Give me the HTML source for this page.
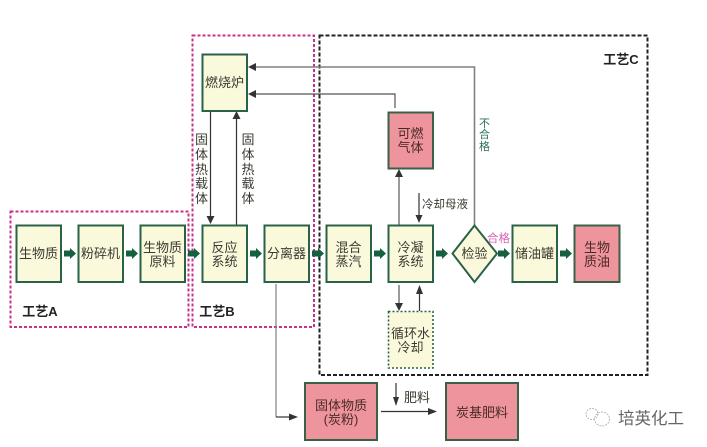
<!DOCTYPE html>
<html><head><meta charset="utf-8">
<style>
html,body{margin:0;padding:0;background:#fff;width:707px;height:447px;overflow:hidden}
svg{display:block}
text{font-family:"Liberation Sans","Noto Sans CJK SC",sans-serif;font-size:13px;fill:#3a3a32;text-anchor:middle}
.y{fill:#fbf9dc;stroke:#2a6248;stroke-width:2}
.r{fill:#ee949c;stroke:#3a6048;stroke-width:2}
.t{fill:#4a2a28}
.l{stroke:#333;stroke-width:1.2;fill:none}
.g{stroke:#808080;stroke-width:1.6;fill:none}
.b{font-weight:bold;fill:#222}
</style></head>
<body>
<svg width="707" height="447" viewBox="0 0 707 447" xmlns="http://www.w3.org/2000/svg">
<defs>
<g id="ga"><rect x="0" y="-3" width="7" height="6" fill="#14603f"/><path d="M6 -5.5L12 0L6 5.5Z" fill="#14603f"/></g>
</defs>
<!-- dashed groups -->
<rect x="10.500" y="211.500" width="178" height="115.500" fill="none" stroke="#c8308c" stroke-width="2" stroke-dasharray="3 2"/>
<rect x="192.500" y="35.500" width="121.500" height="291.500" fill="none" stroke="#c8308c" stroke-width="2" stroke-dasharray="3 2"/>
<rect x="319.500" y="35.500" width="328" height="339.500" fill="none" stroke="#222" stroke-width="2" stroke-dasharray="4 2"/>

<!-- connectors -->
<path class="g" d="M474.500 225V67H253"/>
<path d="M248 67L256 63V71Z" fill="#333"/>
<path class="l" d="M395 108V94H253" style="stroke:#555"/>
<path d="M248 94L256 90V98Z" fill="#333"/>
<path class="l" d="M210.500 111V220"/>
<path d="M210.500 224L206.500 216H214.500Z" fill="#333"/>
<path class="l" d="M236.500 225V116"/>
<path d="M236.500 111L232.500 119H240.500Z" fill="#333"/>
<path class="g" d="M399 225V174"/>
<path d="M399 169L395 177H403Z" fill="#333"/>
<path class="l" d="M419 193V218"/>
<path d="M419 223L415.500 215H422.500Z" fill="#333"/>
<path class="g" d="M399 285V305"/>
<path d="M399 311L395 303H403Z" fill="#333"/>
<path class="l" d="M419.500 311V292"/>
<path d="M419.500 285L416 294H423Z" fill="#333"/>
<path class="g" d="M276 284V417" style="stroke-width:1.2"/>
<path class="l" d="M276 417H292"/>
<path d="M298 417L289 413.500V420.500Z" fill="#333"/>
<path class="l" d="M396 383V401"/>
<path d="M396 406L393 397H399Z" fill="#333"/>
<path class="l" d="M381 411.500H432"/>
<path d="M437 411.500L428 408V415Z" fill="#333"/>

<!-- green arrows -->
<use href="#ga" x="64" y="253.500"/>
<use href="#ga" x="126" y="253.500"/>
<use href="#ga" x="188" y="253.500"/>
<use href="#ga" x="250" y="253.500"/>
<use href="#ga" x="312" y="253.500"/>
<use href="#ga" x="374" y="253.500"/>
<use href="#ga" x="436" y="253.500"/>
<use href="#ga" x="498" y="253.500"/>
<use href="#ga" x="560" y="253.500"/>

<!-- boxes -->
<rect class="y" x="16.500" y="225.500" width="44.500" height="56.500"/>
<rect class="y" x="78.500" y="225.500" width="44.500" height="56.500"/>
<rect class="y" x="140.500" y="225.500" width="44.500" height="56.500"/>
<rect class="y" x="202.500" y="225.500" width="44.500" height="56.500"/>
<rect class="y" x="264.500" y="225.500" width="44.500" height="56.500"/>
<rect class="y" x="326.500" y="225.500" width="44.500" height="56.500"/>
<rect class="y" x="388.500" y="225.500" width="44.500" height="56.500"/>
<path class="y" d="M474.500 225.500L497 253.500L474.500 282L452.500 253.500Z"/>
<rect class="y" x="512.500" y="225.500" width="44.500" height="56.500"/>
<rect class="r" x="574.500" y="225.500" width="45" height="56.500"/>
<rect class="y" x="388.500" y="311.500" width="44.500" height="56.500" stroke-dasharray="2 2" style="stroke-width:1.6"/>
<rect class="r" x="388.500" y="112.500" width="44.500" height="56"/>
<rect class="y" x="202.500" y="54.500" width="44.500" height="56.500"/>
<rect class="r" x="305" y="383" width="72" height="57"/>
<rect class="r" x="446" y="383" width="72" height="57"/>

<!-- box labels -->
<text x="38.500" y="258">生物质</text>
<text x="100.500" y="258">粉碎机</text>
<text x="162.500" y="252">生物质</text>
<text x="162.500" y="266">原料</text>
<text x="224.500" y="252">反应</text>
<text x="224.500" y="266">系统</text>
<text x="286.500" y="258">分离器</text>
<text x="348.500" y="252">混合</text>
<text x="348.500" y="266">蒸汽</text>
<text x="410.500" y="252">冷凝</text>
<text x="410.500" y="266">系统</text>
<text x="474.500" y="258">检验</text>
<text x="534.500" y="258">储油罐</text>
<text class="t" x="597" y="252">生物</text>
<text class="t" x="597" y="266">质油</text>
<text x="410.500" y="338">循环水</text>
<text x="410.500" y="352">冷却</text>
<text class="t" x="410.500" y="138">可燃</text>
<text class="t" x="410.500" y="152">气体</text>
<text x="224.500" y="87">燃烧炉</text>
<text class="t" x="341" y="410">固体物质</text>
<text class="t" x="341" y="424">(炭粉)</text>
<text class="t" x="482" y="417">炭基肥料</text>

<!-- side labels -->
<text x="201.500" y="144">固</text><text x="201.500" y="159">体</text><text x="201.500" y="174">热</text><text x="201.500" y="188">载</text><text x="201.500" y="203">体</text>
<text x="248" y="144">固</text><text x="248" y="159">体</text><text x="248" y="174">热</text><text x="248" y="188">载</text><text x="248" y="203">体</text>
<text x="445" y="208" style="font-size:11.500px">冷却母液</text>
<text x="487" y="242" style="fill:#d862b4;text-anchor:start;font-size:11.500px">合格</text>
<text x="484.500" y="127" style="fill:#2e7058;font-size:11px">不</text>
<text x="484.500" y="138" style="fill:#2e7058;font-size:11px">合</text>
<text x="484.500" y="150" style="fill:#2e7058;font-size:11px">格</text>
<text x="417" y="402">肥料</text>

<text class="b" x="40" y="316">工艺A</text>
<text class="b" x="217" y="316">工艺B</text>
<text class="b" x="621" y="64">工艺C</text>

<!-- watermark -->
<g fill="none" stroke="#aaa" stroke-width="0.8" stroke-dasharray="2 1">
<ellipse cx="592" cy="414" rx="6" ry="5.500"/>
<ellipse cx="602" cy="419" rx="7.500" ry="7"/>
</g>
<text x="618" y="424" style="font-size:16.500px;fill:#666;text-anchor:start">培英化工</text>
</svg>
</body></html>
